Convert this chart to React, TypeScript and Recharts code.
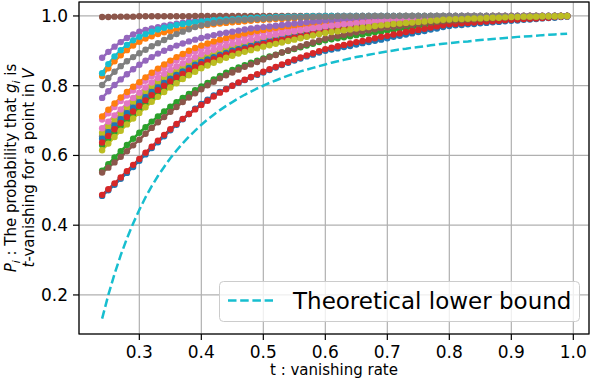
import { LineChart, Line, XAxis, YAxis, CartesianGrid } from "recharts";

// t : vanishing rate, one point every 0.01
const tValues = [
  0.24, 0.25, 0.26, 0.27, 0.28, 0.29, 0.3, 0.31, 0.32, 0.33,
  0.34, 0.35, 0.36, 0.37, 0.38, 0.39, 0.4, 0.41, 0.42, 0.43,
  0.44, 0.45, 0.46, 0.47, 0.48, 0.49, 0.5, 0.51, 0.52, 0.53,
  0.54, 0.55, 0.56, 0.57, 0.58, 0.59, 0.6, 0.61, 0.62, 0.63,
  0.64, 0.65, 0.66, 0.67, 0.68, 0.69, 0.7, 0.71, 0.72, 0.73,
  0.74, 0.75, 0.76, 0.77, 0.78, 0.79, 0.8, 0.81, 0.82, 0.83,
  0.84, 0.85, 0.86, 0.87, 0.88, 0.89, 0.9, 0.91, 0.92, 0.93,
  0.94, 0.95, 0.96, 0.97, 0.98, 0.99,
];

const xTicks = [0.3, 0.4, 0.5, 0.6, 0.7, 0.8, 0.9, 1.0];
const yTicks = [0.2, 0.4, 0.6, 0.8, 1.0];

const blueLow = [
  .484,.500,.516,.533,.550,.567,.585,.603,.621,.638,
  .655,.672,.688,.704,.719,.734,.748,.760,.772,.782,
  .791,.800,.808,.816,.824,.831,.838,.845,.852,.859,
  .866,.872,.878,.884,.889,.895,.900,.904,.907,.911,
  .914,.918,.922,.925,.929,.932,.936,.940,.943,.947,
  .950,.954,.957,.961,.964,.968,.971,.973,.974,.976,
  .977,.979,.980,.982,.983,.985,.986,.987,.989,.990,
  .991,.993,.994,.995,.997,.998,
];
const orangeHigh = [
  .828,.850,.870,.887,.902,.915,.926,.935,.942,.948,
  .953,.957,.961,.964,.967,.970,.972,.974,.976,.978,
  .980,.982,.983,.985,.986,.988,.989,.990,.991,.991,
  .992,.993,.994,.994,.995,.995,.996,.996,.997,.997,
  .997,.998,.998,.998,.999,.999,.999,.999,1,1,
  1,1,1,1,1,1,1,1,1,1,
  1,1,1,1,1,1,1,1,1,1,
  1,1,1,1,1,1,
];
const greenLow = [
  .556,.575,.594,.612,.630,.648,.665,.681,.697,.712,
  .726,.740,.753,.765,.776,.787,.798,.808,.818,.828,
  .837,.845,.852,.859,.866,.872,.878,.884,.889,.895,
  .900,.905,.910,.915,.920,.925,.930,.933,.936,.939,
  .942,.945,.947,.950,.953,.955,.958,.960,.963,.965,
  .967,.969,.972,.974,.976,.978,.980,.982,.983,.985,
  .986,.987,.988,.990,.991,.993,.994,.995,.995,.996,
  .997,.997,.998,.999,.999,1,
];
const redLow = [
  .487,.503,.520,.537,.555,.573,.590,.608,.625,.642,
  .659,.675,.690,.705,.719,.732,.745,.757,.769,.780,
  .790,.800,.809,.817,.825,.833,.840,.847,.854,.861,
  .868,.875,.881,.887,.893,.899,.905,.909,.913,.917,
  .921,.925,.928,.932,.936,.940,.943,.947,.950,.954,
  .957,.960,.963,.967,.970,.973,.976,.977,.979,.980,
  .981,.983,.984,.985,.986,.988,.989,.990,.991,.992,
  .993,.994,.995,.997,.998,.999,
];
const purpleHigh = [
  .880,.897,.912,.925,.937,.947,.955,.960,.964,.968,
  .972,.975,.978,.981,.984,.986,.988,.989,.990,.991,
  .992,.993,.994,.995,.996,.996,.997,.997,.998,.998,
  .998,.999,.999,.999,.999,1,1,1,1,1,
  1,1,1,1,1,1,1,1,1,1,
  1,1,1,1,1,1,1,1,1,1,
  1,1,1,1,1,1,1,1,1,1,
  1,1,1,1,1,1,
];
const brownTop = [
  .997,.997,.998,.998,.998,.998,.999,.999,.999,.999,
  .999,.999,.999,.999,.999,1,1,1,1,1,
  1,1,1,1,1,1,1,1,1,1,
  1,1,1,1,1,1,1,1,1,1,
  1,1,1,1,1,1,1,1,1,1,
  1,1,1,1,1,1,1,1,1,1,
  1,1,1,1,1,1,1,1,1,1,
  1,1,1,1,1,1,
];
const pinkHigh = [
  .703,.721,.739,.756,.772,.786,.800,.814,.827,.839,
  .851,.862,.872,.881,.890,.898,.905,.912,.918,.924,
  .929,.934,.938,.942,.946,.950,.953,.956,.959,.962,
  .964,.966,.969,.971,.973,.975,.977,.979,.980,.982,
  .983,.984,.986,.987,.988,.989,.990,.991,.992,.992,
  .993,.994,.994,.995,.996,.996,.997,.997,.998,.998,
  .998,.999,.999,.999,.999,1,1,1,1,1,
  1,1,1,1,1,1,
];
const grayMid = [
  .655,.674,.693,.711,.728,.744,.760,.775,.789,.803,
  .815,.827,.838,.848,.857,.866,.874,.881,.888,.894,
  .900,.906,.911,.915,.920,.924,.928,.932,.935,.939,
  .942,.945,.949,.952,.955,.959,.962,.964,.966,.969,
  .971,.973,.975,.977,.979,.980,.982,.983,.985,.986,
  .987,.988,.989,.990,.992,.993,.994,.994,.995,.995,
  .996,.996,.997,.997,.998,.998,.999,.999,.999,1,
  1,1,1,1,1,1,
];
const oliveHigh = [
  .665,.684,.703,.721,.738,.754,.770,.785,.799,.812,
  .824,.835,.845,.854,.863,.872,.880,.887,.894,.900,
  .906,.912,.917,.921,.925,.929,.933,.937,.940,.944,
  .947,.950,.953,.956,.959,.963,.966,.968,.970,.972,
  .974,.976,.978,.980,.982,.983,.985,.986,.987,.988,
  .989,.990,.991,.992,.993,.994,.995,.995,.996,.996,
  .997,.997,.998,.998,.998,.999,.999,.999,1,1,
  1,1,1,1,1,1,
];
const cyanHigh = [
  .836,.862,.884,.902,.917,.930,.940,.948,.955,.961,
  .966,.970,.974,.977,.980,.982,.984,.986,.988,.989,
  .990,.991,.992,.993,.994,.995,.996,.996,.997,.997,
  .998,.998,.998,.999,.999,.999,1,1,1,1,
  1,1,1,1,1,1,1,1,1,1,
  1,1,1,1,1,1,1,1,1,1,
  1,1,1,1,1,1,1,1,1,1,
  1,1,1,1,1,1,
];
const blueMid = [
  .648,.667,.686,.704,.721,.737,.752,.767,.782,.795,
  .808,.820,.831,.841,.851,.860,.868,.875,.882,.888,
  .894,.900,.905,.910,.915,.920,.924,.928,.931,.935,
  .938,.941,.945,.948,.951,.955,.959,.961,.963,.966,
  .968,.970,.972,.974,.976,.978,.980,.981,.983,.984,
  .985,.986,.988,.989,.990,.992,.993,.993,.994,.994,
  .995,.995,.996,.996,.997,.997,.998,.998,.998,.999,
  .999,.999,1,1,1,1,
];
const orangeMid = [
  .712,.731,.749,.766,.782,.797,.810,.824,.837,.849,
  .861,.872,.882,.891,.900,.908,.915,.921,.927,.932,
  .937,.942,.946,.950,.954,.957,.960,.963,.966,.968,
  .970,.972,.974,.976,.978,.980,.982,.983,.984,.985,
  .986,.987,.988,.989,.990,.991,.992,.993,.993,.994,
  .995,.995,.996,.996,.997,.997,.998,.998,.998,.999,
  .999,.999,.999,1,1,1,1,1,1,1,
  1,1,1,1,1,1,
];
const greenMid = [
  .630,.649,.668,.686,.703,.719,.735,.751,.766,.780,
  .793,.805,.817,.828,.838,.847,.856,.864,.871,.878,
  .884,.890,.895,.901,.906,.911,.916,.920,.924,.928,
  .931,.935,.938,.942,.946,.949,.953,.956,.958,.961,
  .963,.965,.967,.970,.972,.975,.977,.978,.980,.981,
  .983,.984,.985,.987,.988,.990,.991,.992,.992,.993,
  .994,.994,.995,.996,.996,.997,.998,.998,.998,.999,
  .999,.999,.999,1,1,1,
];
const redMid = [
  .637,.656,.675,.693,.710,.726,.742,.758,.773,.787,
  .800,.812,.824,.834,.844,.853,.862,.869,.876,.883,
  .889,.895,.900,.905,.910,.915,.920,.924,.928,.931,
  .935,.938,.942,.945,.949,.952,.956,.958,.961,.963,
  .965,.967,.969,.971,.973,.976,.978,.979,.981,.982,
  .984,.985,.986,.988,.989,.991,.992,.992,.993,.993,
  .994,.995,.995,.996,.996,.997,.998,.998,.998,.999,
  .999,.999,.999,1,1,1,
];
const purpleMid = [
  .765,.784,.802,.818,.833,.847,.860,.872,.882,.892,
  .900,.908,.915,.921,.927,.932,.937,.941,.945,.949,
  .952,.955,.958,.961,.964,.966,.968,.970,.972,.974,
  .976,.978,.980,.982,.984,.985,.987,.988,.989,.990,
  .991,.992,.993,.994,.995,.995,.996,.996,.997,.997,
  .998,.998,.998,.999,.999,.999,1,1,1,1,
  1,1,1,1,1,1,1,1,1,1,
  1,1,1,1,1,1,
];
const brownLow = [
  .551,.565,.580,.596,.612,.629,.645,.662,.679,.695,
  .710,.725,.739,.753,.766,.778,.790,.801,.811,.821,
  .830,.838,.846,.854,.861,.868,.875,.882,.888,.895,
  .901,.907,.913,.919,.924,.930,.935,.939,.943,.946,
  .950,.953,.956,.959,.962,.965,.967,.969,.971,.973,
  .975,.977,.979,.981,.983,.985,.986,.987,.988,.989,
  .990,.991,.992,.993,.994,.995,.996,.996,.997,.997,
  .998,.998,.999,.999,1,1,
];
const pinkMid = [
  .678,.697,.715,.732,.749,.765,.780,.795,.809,.822,
  .834,.845,.855,.864,.873,.882,.890,.897,.903,.909,
  .915,.920,.924,.928,.932,.936,.940,.944,.947,.950,
  .953,.956,.959,.962,.965,.967,.970,.972,.974,.976,
  .977,.979,.981,.982,.984,.985,.987,.988,.989,.990,
  .991,.992,.993,.994,.994,.995,.996,.996,.997,.997,
  .997,.998,.998,.998,.999,.999,.999,.999,1,1,
  1,1,1,1,1,1,
];
const grayHigh = [
  .802,.822,.840,.856,.870,.882,.893,.903,.913,.922,
  .931,.940,.948,.955,.962,.968,.973,.977,.980,.983,
  .985,.987,.988,.989,.990,.991,.992,.993,.994,.995,
  .995,.996,.996,.997,.997,.998,.998,.998,.999,.999,
  .999,.999,1,1,1,1,1,1,1,1,
  1,1,1,1,1,1,1,1,1,1,
  1,1,1,1,1,1,1,1,1,1,
  1,1,1,1,1,1,
];
const oliveMid = [
  .615,.634,.653,.671,.689,.706,.722,.738,.754,.768,
  .782,.795,.807,.819,.830,.840,.850,.858,.866,.873,
  .880,.886,.892,.897,.902,.907,.912,.916,.920,.924,
  .928,.932,.936,.940,.944,.948,.951,.954,.956,.959,
  .961,.964,.966,.968,.971,.973,.975,.977,.978,.980,
  .981,.983,.984,.986,.987,.989,.990,.991,.991,.992,
  .993,.993,.994,.995,.995,.996,.997,.997,.998,.998,
  .998,.999,.999,.999,1,1,
];
const lowerBound = [
  .132,.200,.260,.314,.362,.405,.444,.480,.512,.541,
  .567,.592,.614,.635,.654,.671,.688,.703,.717,.730,
  .742,.753,.764,.774,.783,.792,.800,.808,.815,.822,
  .829,.835,.841,.846,.851,.856,.861,.866,.870,.874,
  .878,.882,.885,.889,.892,.895,.898,.901,.904,.906,
  .909,.911,.913,.916,.918,.920,.922,.924,.926,.927,
  .929,.931,.932,.934,.935,.937,.938,.940,.941,.942,
  .943,.945,.946,.947,.948,.949,
];

// plotted in this order, colours follow the tab10 cycle
const series = [
  { key: "s0", color: "#1f77b4", values: blueLow },
  { key: "s1", color: "#ff7f0e", values: orangeHigh },
  { key: "s2", color: "#2ca02c", values: greenLow },
  { key: "s3", color: "#d62728", values: redLow },
  { key: "s4", color: "#9467bd", values: purpleHigh },
  { key: "s5", color: "#8c564b", values: brownTop },
  { key: "s6", color: "#e377c2", values: pinkHigh },
  { key: "s7", color: "#7f7f7f", values: grayMid },
  { key: "s8", color: "#bcbd22", values: oliveHigh },
  { key: "s9", color: "#17becf", values: cyanHigh },
  { key: "s10", color: "#1f77b4", values: blueMid },
  { key: "s11", color: "#ff7f0e", values: orangeMid },
  { key: "s12", color: "#2ca02c", values: greenMid },
  { key: "s13", color: "#d62728", values: redMid },
  { key: "s14", color: "#9467bd", values: purpleMid },
  { key: "s15", color: "#8c564b", values: brownLow },
  { key: "s16", color: "#e377c2", values: pinkMid },
  { key: "s17", color: "#7f7f7f", values: grayHigh },
  { key: "s18", color: "#bcbd22", values: oliveMid },
];

const data = tValues.map((t, i) => {
  const row: Record<string, number> = { t, bound: lowerBound[i] };
  series.forEach((s) => (row[s.key] = s.values[i]));
  return row;
});

const FONT = "DejaVu Sans, sans-serif";
const W = 592;
const H = 380;

export default function App() {
  return (
    <div style={{ position: "absolute", left: 0, top: 0, width: W, height: H, background: "#fff" }}>
      <LineChart
        width={W}
        height={H}
        data={data}
        margin={{ top: 2, right: 3, bottom: 0, left: 0 }}
      >
        <CartesianGrid stroke="#b0b0b0" strokeWidth={1.2} />
        <XAxis
          dataKey="t"
          type="number"
          domain={[0.2027, 1.0253]}
          ticks={xTicks}
          allowDataOverflow
          height={46}
          axisLine={false}
          tickLine={{ stroke: "#000", strokeWidth: 1.2 }}
          tickSize={6}
          tickMargin={6}
          tickFormatter={(v: number) => v.toFixed(1)}
          tick={{ fontSize: 17, fill: "#000", fontFamily: FONT }}
        />
        <YAxis
          type="number"
          domain={[0.088, 1.04]}
          ticks={yTicks}
          allowDataOverflow
          width={79}
          axisLine={false}
          tickLine={{ stroke: "#000", strokeWidth: 1.2 }}
          tickSize={6}
          tickMargin={5}
          tickFormatter={(v: number) => v.toFixed(1)}
          tick={{ fontSize: 17, fill: "#000", fontFamily: FONT }}
        />
        {series.map((s) => (
          <Line
            key={s.key}
            dataKey={s.key}
            stroke={s.color}
            strokeWidth={2.5}
            dot={{ r: 3.2, fill: s.color, stroke: s.color, strokeWidth: 0 }}
            activeDot={false}
            isAnimationActive={false}
          />
        ))}
        <Line
          dataKey="bound"
          name="Theoretical lower bound"
          stroke="#17becf"
          strokeWidth={2.5}
          strokeDasharray="8.5 3.7"
          dot={false}
          activeDot={false}
          isAnimationActive={false}
        />
      </LineChart>
      <svg
        width={W}
        height={H}
        style={{ position: "absolute", left: 0, top: 0, pointerEvents: "none" }}
        fontFamily={FONT}
      >
        <rect x={79} y={2} width={510} height={332} fill="none" stroke="#000" strokeWidth={1.2} />
        <rect x={219.5} y={281.5} width={360} height={40} rx={4} fill="#fff" fillOpacity={0.8} stroke="#cccccc" />
        <line x1={228} x2={273} y1={300.5} y2={300.5} stroke="#17becf" strokeWidth={2.5} strokeDasharray="8.5 3.7" />
        <text x={293} y={308.5} fontSize={23} fill="#000">Theoretical lower bound</text>
        <text x={334} y={375} fontSize={15} fill="#000" textAnchor="middle">t : vanishing rate</text>
        <g transform="translate(16,168) rotate(-90)">
          <text x={0} y={0} fontSize={15} fill="#000" textAnchor="middle">
            <tspan fontStyle="italic">P</tspan>
            <tspan fontStyle="italic" fontSize={10.5} dy={3.5}>i</tspan>
            <tspan dy={-3.5}> : The probability that </tspan>
            <tspan fontStyle="italic">g</tspan>
            <tspan fontStyle="italic" fontSize={10.5} dy={3.5}>i</tspan>
            <tspan dy={-3.5}> is</tspan>
          </text>
          <text x={0} y={18} fontSize={15} fill="#000" textAnchor="middle">
            <tspan fontStyle="italic">t</tspan>
            <tspan>-vanishing for a point in </tspan>
            <tspan fontStyle="italic">V</tspan>
          </text>
        </g>
      </svg>
    </div>
  );
}
